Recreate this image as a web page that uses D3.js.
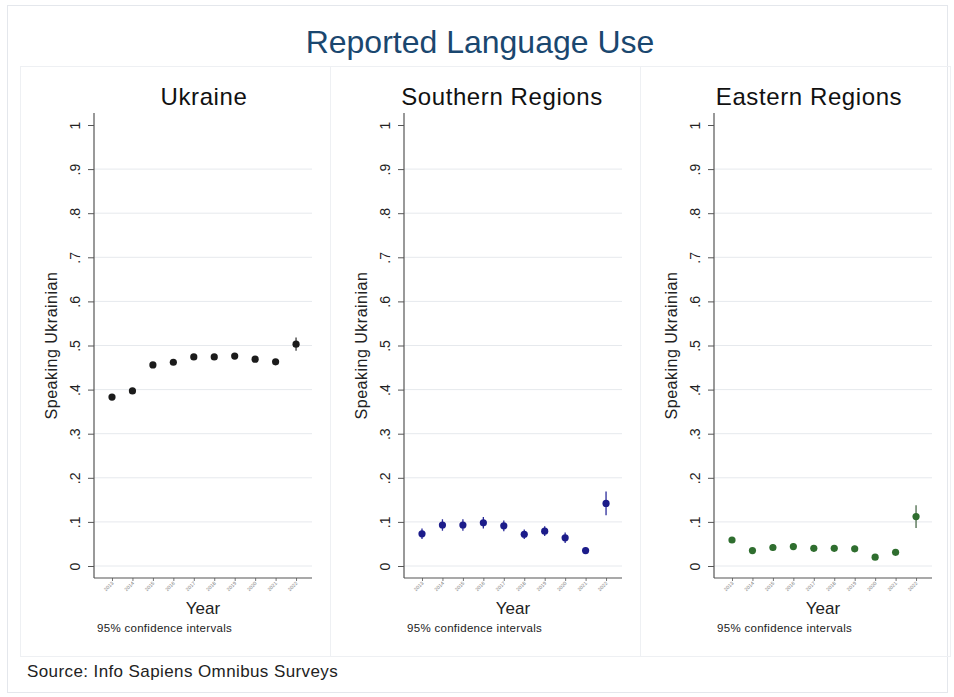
<!DOCTYPE html>
<html>
<head>
<meta charset="utf-8">
<script src="https://cdn.jsdelivr.net/npm/d3@7/dist/d3.min.js"></script>
<style>
  html, body { margin: 0; padding: 0; background: #ffffff; }
  svg { display: block; font-family: "Liberation Sans", Arial, sans-serif; }
</style>
</head>
<body>
<svg id="chart" width="954" height="697"></svg>
<script>
// Survey waves
const years = [2013, 2014, 2015, 2016, 2017, 2018, 2019, 2020, 2021, 2022];

// Share speaking Ukrainian, with 95% confidence bounds
const ukraine   = [0.383, 0.397, 0.456, 0.462, 0.474, 0.474, 0.476, 0.469, 0.463, 0.503];
const ukraineLo = [0.377, 0.391, 0.450, 0.456, 0.468, 0.468, 0.470, 0.463, 0.457, 0.488];
const ukraineHi = [0.389, 0.403, 0.462, 0.468, 0.480, 0.480, 0.482, 0.475, 0.469, 0.518];

const south   = [0.073, 0.093, 0.093, 0.098, 0.091, 0.072, 0.079, 0.064, 0.035, 0.142];
const southLo = [0.061, 0.080, 0.080, 0.085, 0.079, 0.061, 0.068, 0.052, 0.028, 0.115];
const southHi = [0.085, 0.106, 0.106, 0.111, 0.103, 0.083, 0.090, 0.076, 0.042, 0.169];

const east   = [0.059, 0.035, 0.042, 0.044, 0.040, 0.040, 0.039, 0.020, 0.031, 0.112];
const eastLo = [0.052, 0.029, 0.034, 0.036, 0.033, 0.033, 0.032, 0.015, 0.025, 0.086];
const eastHi = [0.066, 0.041, 0.050, 0.052, 0.047, 0.047, 0.046, 0.025, 0.037, 0.138];

const panelTitles = ["Ukraine", "Southern Regions", "Eastern Regions"];
const yTicks = [0, 0.1, 0.2, 0.3, 0.4, 0.5, 0.6, 0.7, 0.8, 0.9, 1];
const yTickLabels = ["0", ".1", ".2", ".3", ".4", ".5", ".6", ".7", ".8", ".9", "1"];

const panels = [
  { title: panelTitles[0], v: ukraine, lo: ukraineLo, hi: ukraineHi, color: "#1b1b1b", ci: "#3a3a3a", titleDx: 110 },
  { title: panelTitles[1], v: south,   lo: southLo,   hi: southHi,   color: "#1c1c8a", ci: "#2a2a9a", titleDx: 98 },
  { title: panelTitles[2], v: east,    lo: eastLo,    hi: eastHi,    color: "#2f6e2f", ci: "#4a6a4a", titleDx: 95 }
];

const svg = d3.select("#chart");

// outer frame of the combined graph
svg.append("rect")
  .attr("x", 7.5).attr("y", 5.5).attr("width", 940).attr("height", 687)
  .attr("fill", "#ffffff").attr("stroke", "#e4e7ec").attr("stroke-width", 1);

svg.append("text")
  .attr("x", 480).attr("y", 53)
  .attr("text-anchor", "middle")
  .attr("font-size", 32).attr("fill", "#1a476f")
  .text("Reported Language Use");

const panelW = 310, panelX0 = 20;
const y = d3.scaleLinear().domain([0, 1]).range([566, 125]);
const axisBottom = 578, axisTop = 113;

panels.forEach((p, i) => {
  const px = panelX0 + i * panelW;
  const ax = px + 74;
  const x = d3.scaleLinear()
    .domain([years[0] - 0.88, years[years.length - 1] + 0.78])
    .range([ax, ax + 218]);

  const g = svg.append("g");

  // faint subgraph border
  g.append("rect")
    .attr("x", px + 0.5).attr("y", 66.5)
    .attr("width", panelW).attr("height", 590)
    .attr("fill", "none").attr("stroke", "#eef0f3");

  g.append("text")
    .attr("x", ax + p.titleDx).attr("y", 105)
    .attr("text-anchor", "middle")
    .attr("font-size", 24).attr("letter-spacing", 0.6).attr("fill", "#111")
    .text(p.title);

  // horizontal gridlines
  g.selectAll("line.grid")
    .data(yTicks.filter(t => t < 1))
    .join("line")
    .attr("x1", ax).attr("x2", ax + 218)
    .attr("y1", d => y(d)).attr("y2", d => y(d))
    .attr("stroke", "#e6e9ed").attr("stroke-width", 1);

  // y axis
  const yAxis = d3.axisLeft(y).tickValues(yTicks)
    .tickFormat((d, k) => yTickLabels[k]).tickSize(6).tickSizeOuter(0);
  const ya = g.append("g").attr("transform", `translate(${ax},0)`).call(yAxis);
  ya.select(".domain").remove();
  ya.selectAll(".tick line").attr("stroke", "#555");
  ya.selectAll(".tick text")
    .attr("font-size", 14).attr("fill", "#222")
    .attr("transform", "rotate(-90)")
    .attr("x", 0).attr("y", -14)
    .attr("dy", "0")
    .attr("text-anchor", "middle");
  g.append("line")
    .attr("x1", ax).attr("x2", ax)
    .attr("y1", axisTop).attr("y2", axisBottom)
    .attr("stroke", "#555").attr("stroke-width", 1.2);

  g.append("text")
    .attr("transform", `translate(${ax - 37},${y(0.5)}) rotate(-90)`)
    .attr("text-anchor", "middle")
    .attr("font-size", 16).attr("letter-spacing", 0.5).attr("fill", "#222")
    .text("Speaking Ukrainian");

  // x axis
  const xAxis = d3.axisBottom(x).tickValues(years)
    .tickFormat(d3.format("d")).tickSize(3).tickSizeOuter(0);
  const xa = g.append("g").attr("transform", `translate(0,${axisBottom})`).call(xAxis);
  xa.select(".domain").remove();
  xa.selectAll(".tick line").attr("stroke", "#777");
  xa.selectAll(".tick text")
    .attr("font-size", 5).attr("fill", "#777")
    .attr("text-anchor", "end")
    .attr("transform", "rotate(-45)")
    .attr("x", -3).attr("y", 5).attr("dy", "0");
  g.append("line")
    .attr("x1", ax).attr("x2", ax + 218)
    .attr("y1", axisBottom).attr("y2", axisBottom)
    .attr("stroke", "#555").attr("stroke-width", 1.2);

  g.append("text")
    .attr("x", ax + 109).attr("y", 614)
    .attr("text-anchor", "middle")
    .attr("font-size", 17).attr("fill", "#222")
    .text("Year");

  g.append("text")
    .attr("x", ax + 3).attr("y", 632)
    .attr("font-size", 11.5).attr("letter-spacing", 0.3).attr("fill", "#222")
    .text("95% confidence intervals");

  // confidence intervals
  g.selectAll("line.ci")
    .data(years)
    .join("line")
    .attr("x1", d => x(d)).attr("x2", d => x(d))
    .attr("y1", (d, k) => y(p.lo[k])).attr("y2", (d, k) => y(p.hi[k]))
    .attr("stroke", p.ci).attr("stroke-width", 1.3);

  // point estimates
  g.selectAll("circle.pt")
    .data(years)
    .join("circle")
    .attr("cx", d => x(d))
    .attr("cy", (d, k) => y(p.v[k]))
    .attr("r", 3.6)
    .attr("fill", p.color);
});

svg.append("text")
  .attr("x", 27).attr("y", 677)
  .attr("font-size", 17).attr("letter-spacing", 0.4).attr("fill", "#222")
  .text("Source: Info Sapiens Omnibus Surveys");
</script>
</body>
</html>
